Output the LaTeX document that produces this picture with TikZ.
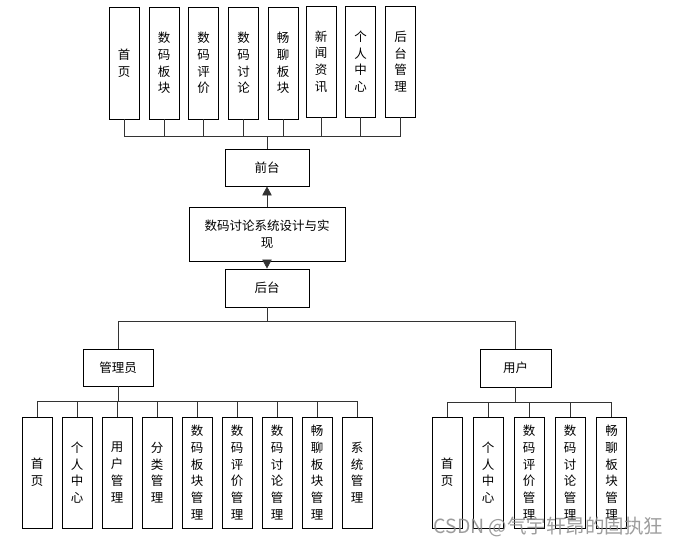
\documentclass[tikz,border=0pt]{standalone}
\usepackage{fontspec}
\setmainfont{Noto Sans CJK SC}
\usetikzlibrary{arrows.meta}
\tikzset{
  box/.style={draw=black, line width=0.9pt, fill=white, inner sep=0pt, align=center,
    font=\fontsize{12.5}{16.7}\selectfont},
  vbox/.style={box, minimum width=30pt},
  hbox/.style={box, minimum width=84pt, minimum height=37pt},
  conn/.style={draw=black!80, line width=0.8pt},
  arr/.style={conn, -{Triangle[length=9pt,width=9.5pt]}}
}
\begin{document}
\begin{tikzpicture}[x=1pt,y=-1pt]
\useasboundingbox (0,0) rectangle (681,547);
% top row
\node[vbox, minimum height=112pt] (t1) at (124,63) {首\\页};
\node[vbox, minimum height=112pt] (t2) at (164,63) {数\\码\\板\\块};
\node[vbox, minimum height=112pt] (t3) at (203.5,63) {数\\码\\评\\价};
\node[vbox, minimum height=112pt] (t4) at (243.5,63) {数\\码\\讨\\论};
\node[vbox, minimum height=112pt] (t5) at (283,63) {畅\\聊\\板\\块};
\node[vbox, minimum height=111pt] (t6) at (321,61.5) {新\\闻\\资\\讯};
\node[vbox, minimum height=111pt] (t7) at (360.5,61.5) {个\\人\\中\\心};
\node[vbox, minimum height=111pt] (t8) at (400.5,61.5) {后\\台\\管\\理};
\coordinate (bt) at (267,136);
\foreach \i in {1,...,8} \draw[conn] (t\i.south) |- (bt);
\node[hbox] (qt) at (267,167.5) {前台};
\draw[conn] (bt) -- (qt.north);
\node[box, minimum width=156pt, minimum height=54pt] (main) at (267,234) {数码讨论系统设计与实\\现};
\draw[arr] (main.north) -- (qt.south);
\node[hbox, minimum height=38pt] (ht) at (267,288) {后台};
\draw[arr] (main.south) -- (ht.north);
\coordinate (bb) at (267,321);
\draw[conn] (ht.south) -- (bb);
\node[box, minimum width=70pt, minimum height=37pt] (adm) at (118,367.5) {管理员};
\node[box, minimum width=71pt, minimum height=38pt] (usr) at (515.5,368) {用户};
\draw[conn] (adm.north) |- (bb);
\draw[conn] (usr.north) |- (bb);
% admin children
\coordinate (ba) at (118,401);
\draw[conn] (adm.south) -- (ba);
\foreach \x/\t [count=\i] in {37/{首\\页},77/{个\\人\\中\\心},117/{用\\户\\管\\理},157/{分\\类\\管\\理},197/{数\\码\\板\\块\\管\\理},237/{数\\码\\评\\价\\管\\理},277/{数\\码\\讨\\论\\管\\理},317/{畅\\聊\\板\\块\\管\\理},357/{系\\统\\管\\理}}{
  \node[vbox, minimum height=111pt] (a\i) at (\x,472.5) {\t};
  \draw[conn] (a\i.north) |- (ba);
}
% user children
\coordinate (bu) at (515.5,402);
\draw[conn] (usr.south) -- (bu);
\foreach \x/\t [count=\i] in {447/{首\\页},488/{个\\人\\中\\心},529/{数\\码\\评\\价\\管\\理},570/{数\\码\\讨\\论\\管\\理},611.5/{畅\\聊\\板\\块\\管\\理}}{
  \node[vbox, minimum height=111pt] (u\i) at (\x,472.5) {\t};
  \draw[conn] (u\i.north) |- (bu);
}
\node[text=black!45, opacity=0.85, font=\fontsize{19.5}{21}\selectfont, inner sep=0pt] (wm) at (548.5,527) {CSDN @气宇轩昂的固执狂};
\end{tikzpicture}
\end{document}
